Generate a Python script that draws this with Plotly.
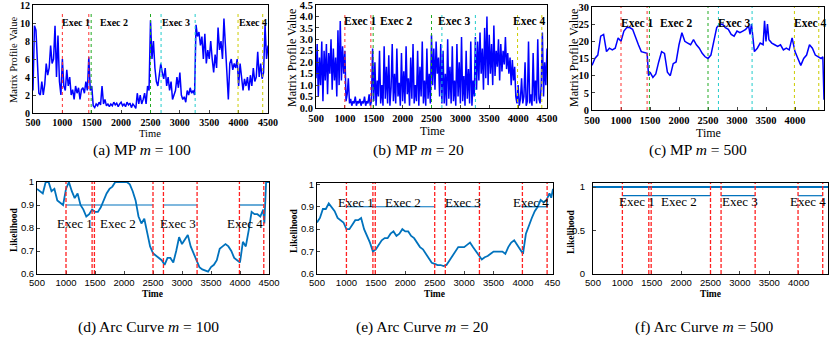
import plotly.graph_objects as go

# ---------------- data ----------------
t_a = list(range(500, 4501, 25))
mp_100 = [2.5, 9.7, 9.2, 5.0, 2.2, 2.0, 3.5, 2.0, 3.2, 5.5, 4.2, 5.0, 7.5, 5.5, 6.0, 9.7, 4.0, 8.6, 3.5, 2.0,
          6.0, 3.0, 2.5, 4.8, 3.0, 4.0, 2.0, 2.6, 1.5, 3.0, 2.2, 2.8, 1.5, 2.6, 2.8, 2.2, 3.5, 2.5, 6.2, 2.5,
          3.0, 0.8, 0.6, 1.0, 0.8, 1.2, 0.9, 3.0, 1.0, 1.5, 0.8, 1.0, 0.7, 1.0, 0.8, 1.2, 0.9, 1.1, 0.7, 1.0,
          1.2, 0.8, 1.0, 0.7, 1.2, 0.9, 1.1, 0.6, 1.0, 0.8, 0.5, 2.2, 1.0, 2.0, 1.0, 1.5, 2.2, 1.0, 3.0, 2.5,
          10.3, 6.0, 8.0, 5.0, 3.5, 3.0, 4.5, 5.5, 4.5, 3.8, 5.0, 3.0, 4.0, 2.5, 3.5, 1.5, 2.0, 2.5, 4.0, 2.8,
          4.5, 2.0, 1.5, 1.8, 1.2, 2.5, 2.0, 2.8, 2.2, 2.5, 2.0, 9.8, 8.5, 9.0, 7.5, 8.5, 6.0, 8.8, 5.5, 7.0,
          6.0, 8.0, 6.0, 4.5, 6.5, 5.0, 9.5, 7.0, 8.0, 6.0, 10.5, 7.5, 6.0, 1.5, 5.5, 6.0, 4.8, 5.5, 5.0, 6.0,
          3.0, 5.5, 4.0, 2.5, 3.8, 3.0, 4.0, 2.5, 4.2, 3.0, 5.0, 3.5, 4.0, 6.8, 4.0, 5.5, 3.8, 4.5, 9.8, 6.0,
          7.5]

t_b = list(range(500, 4501, 20))
mp_20 = [1.3, 2.8, 0.5, 2.2, 1.0, 2.9, 0.3, 2.5, 1.2, 2.8,
         0.6, 2.4, 1.5, 3.0, 0.8, 2.6, 1.2, 2.2, 0.5, 3.4,
         1.0, 3.8, 1.2, 2.7, 1.5, 2.5, 0.3, 0.6, 1.3, 0.2,
         0.4, 0.1, 0.3, 0.2, 0.5, 0.1, 0.3, 0.2, 0.4, 0.1,
         0.3, 0.2, 0.5, 0.1, 0.3, 0.2, 0.6, 0.1, 0.3, 2.6,
         0.3, 2.0, 0.1, 1.2, 0.5, 2.5, 0.2, 1.0, 0.1, 2.7,
         0.4, 1.8, 0.2, 2.3, 0.1, 0.9, 2.8, 0.3, 1.5, 0.2,
         2.6, 0.5, 1.1, 0.1, 2.4, 0.3, 1.6, 0.2, 2.7, 0.6,
         1.3, 0.1, 2.2, 0.4, 2.8, 0.2, 1.0, 0.3, 2.5, 0.1,
         1.8, 0.5, 2.9, 0.2, 1.2, 0.1, 2.6, 0.4, 1.5, 0.2,
         3.2, 1.0, 2.6, 0.8, 2.9, 1.5, 2.2, 0.5, 2.8, 0.2,
         2.5, 0.2, 1.5, 0.1, 3.0, 0.4, 1.8, 0.2, 2.7, 0.3,
         1.2, 0.1, 2.8, 0.5, 2.0, 0.2, 3.1, 0.3, 1.4, 0.1,
         2.5, 0.4, 1.7, 0.2, 2.9, 0.1, 1.2, 0.5, 3.1, 0.8,
         2.9, 1.2, 3.3, 1.5, 2.6, 0.8, 3.5, 1.3, 4.0, 1.0,
         3.2, 1.5, 2.8, 1.0, 3.6, 1.4, 2.5, 1.8, 3.0, 1.2,
         2.8, 1.6, 2.5, 1.9, 3.1, 1.7, 2.4, 1.5, 2.2, 1.0,
         2.1, 1.2, 1.8, 0.5, 0.2, 1.0, 0.1, 0.4, 1.3, 0.2,
         0.5, 2.0, 0.1, 0.3, 2.9, 0.2, 0.6, 0.1, 2.4, 0.3,
         1.2, 0.2, 3.0, 0.4, 0.2, 1.0, 3.3, 0.5, 2.0, 1.0,
         2.6]

t_c = [500, 550, 600, 650, 700, 750, 800, 850, 900, 950, 1000, 1050, 1100, 1150, 1200, 1250, 1300, 1350,
       1400, 1450, 1475, 1500, 1550, 1600, 1650, 1700, 1750, 1800, 1850, 1900, 1950, 2000, 2050, 2100, 2150,
       2200, 2250, 2300, 2350, 2400, 2450, 2500, 2550, 2600, 2650, 2700, 2750, 2800, 2850, 2900, 2950, 3000,
       3050, 3100, 3150, 3200, 3225, 3250, 3300, 3350, 3400, 3450, 3475, 3500, 3525, 3550, 3600, 3650, 3700,
       3750, 3800, 3850, 3900, 3950, 4000, 4050, 4100, 4150, 4200, 4250, 4300, 4350, 4400, 4450, 4480, 4500]
mp_500 = [13, 15, 16, 21.5, 22, 17, 18, 17.5, 18, 21, 20, 23, 24, 24, 23.5, 21, 19, 17,
          16.8, 16.5, 10, 11, 9.5, 10.5, 14, 17, 16.5, 11, 10, 13.5, 14, 19, 22.5, 20, 19.5,
          19, 20.5, 19, 18, 16.5, 15.5, 15, 16, 20, 24, 25, 25, 24, 23.5, 22, 21.5, 23,
          22.5, 23, 23.5, 24.5, 22, 25, 17, 18, 19.5, 19, 26, 20, 25, 20.5, 19.5, 19, 18.5,
          19, 17.5, 18, 17.5, 21, 17, 15, 13, 15, 16, 19, 18, 16, 15.5, 15, 15.5, 3]

t_d = [500, 550, 600, 650, 700, 750, 800, 850, 900, 950, 1000, 1050, 1100, 1150, 1200, 1250, 1300, 1350,
       1400, 1450, 1500, 1550, 1600, 1650, 1700, 1750, 1800, 1850, 1900, 1950, 2000, 2050, 2100, 2150, 2200,
       2250, 2300, 2350, 2400, 2450, 2500, 2550, 2600, 2650, 2700, 2750, 2800, 2850, 2900, 2950, 3000, 3050,
       3100, 3150, 3200, 3250, 3300, 3350, 3400, 3450, 3500, 3550, 3600, 3650, 3700, 3750, 3800, 3850, 3900,
       3950, 4000, 4050, 4100, 4150, 4200, 4250, 4300, 4350, 4400, 4420, 4450, 4500]
arc_100 = [0.97, 0.96, 0.95, 1.0, 1.0, 0.96, 0.97, 0.92, 0.91, 0.90, 0.97, 1.0, 0.96, 0.93, 0.95, 0.90, 0.88, 0.85,
           0.86, 0.88, 0.87, 0.87, 0.89, 0.92, 0.95, 0.97, 0.98, 1.0, 1.0, 1.0, 1.0, 1.0, 0.99, 0.96, 0.92,
           0.85, 0.82, 0.84, 0.78, 0.72, 0.69, 0.68, 0.67, 0.66, 0.64, 0.67, 0.67, 0.65, 0.70, 0.76, 0.73, 0.75,
           0.77, 0.72, 0.69, 0.66, 0.63, 0.62, 0.615, 0.61, 0.63, 0.64, 0.66, 0.71, 0.72, 0.73, 0.72, 0.70, 0.67,
           0.66, 0.65, 0.74, 0.72, 0.79, 0.87, 0.86, 0.86, 0.85, 0.88, 0.82, 1.0, 1.0]

t_e = [500, 550, 600, 650, 700, 750, 800, 850, 900, 950, 1000, 1050, 1100, 1150, 1200, 1250, 1300, 1350,
       1400, 1450, 1500, 1550, 1600, 1650, 1700, 1750, 1800, 1850, 1900, 1950, 2000, 2050, 2100, 2150, 2200,
       2250, 2300, 2350, 2400, 2450, 2500, 2550, 2600, 2650, 2700, 2750, 2800, 2850, 2900, 2950, 3000, 3050,
       3100, 3150, 3200, 3250, 3300, 3350, 3400, 3450, 3500, 3550, 3600, 3650, 3700, 3750, 3800, 3850, 3900,
       3950, 4000, 4050, 4100, 4150, 4200, 4250, 4300, 4350, 4400, 4450, 4480, 4510]
arc_20 = [0.83, 0.85, 0.89, 0.89, 0.915, 0.90, 0.88, 0.85, 0.84, 0.83, 0.80, 0.80, 0.82, 0.84, 0.84, 0.85, 0.80, 0.77,
          0.74, 0.70, 0.71, 0.73, 0.75, 0.76, 0.76, 0.78, 0.79, 0.77, 0.78, 0.80, 0.79, 0.79, 0.77, 0.76, 0.74,
          0.72, 0.71, 0.69, 0.67, 0.65, 0.645, 0.64, 0.64, 0.635, 0.64, 0.66, 0.68, 0.70, 0.72, 0.72, 0.72, 0.73,
          0.74, 0.72, 0.70, 0.68, 0.665, 0.675, 0.68, 0.69, 0.70, 0.70, 0.70, 0.70, 0.69, 0.72, 0.74, 0.75, 0.73,
          0.71, 0.69, 0.78, 0.82, 0.85, 0.88, 0.90, 0.93, 0.92, 0.93, 0.96, 0.94, 0.98]

t_f = [500, 4500]
arc_500 = [1.0, 1.0]

exec_bounds = [1000, 1450, 1490, 2500, 2680, 3260, 3990, 4410]
exec_names = ["Exec 1", "Exec 2", "Exec 3", "Exec 4"]
segments = [(1000, 2500), (2680, 3260), (3990, 4410)]
segment_level = 0.9
captions = ["(a) MP <i>m</i> = 100", "(b) MP <i>m</i> = 20", "(c) MP <i>m</i> = 500",
            "(d) Arc Curve <i>m</i> = 100", "(e) Arc Curve <i>m</i> = 20", "(f) Arc Curve <i>m</i> = 500"]

# ---------------- layout helpers ----------------
W, H = 833, 346
def dx(a, b):
    return [a / W, b / W]
def dy(top, bot):
    return [1 - bot / H, 1 - top / H]

SERIF = "Liberation Serif"
SANS = "Liberation Sans"
MP_BLUE = "#0000ff"
ARC_BLUE = "#0072bd"
vline_cols = ["#ff3030", "#ff3030", "#22aa22", "#22aa22", "#22cccc", "#22cccc", "#cccc00", "#cccc00"]

fig = go.Figure()

panels = [
    dict(n=1, x=t_a, y=mp_100, xd=dx(33, 268), yd=dy(5, 113), yr=[0, 12], dt=2, kind="mp",
         fs=10, tfs=10.5, xt=(150, 133), yt=(13, 60), efs=10, ys=0),
    dict(n=2, x=t_b, y=mp_20, xd=dx(316, 547), yd=dy(5, 108), yr=[0, 4.5], dt=0.5, kind="mp",
         fs=10.5, tfs=12, xt=(432, 131), yt=(292, 58), efs=11.5, ys=0),
    dict(n=3, x=t_c, y=mp_500, xd=dx(592, 824), yd=dy(7, 110), yr=[0, 30], dt=5, kind="mp",
         fs=10.5, tfs=12, xt=(708, 133), yt=(574, 58), efs=11.5, ys=0),
    dict(n=4, x=t_d, y=arc_100, xd=dx(37, 269), yd=dy(182, 274), yr=[0.6, 1.0], dt=0.1, kind="arc",
         fs=9.5, tfs=9.5, xt=(152, 294), yt=(14, 230), efs=13, ys=0),
    dict(n=5, x=t_e, y=arc_20, xd=dx(317, 553), yd=dy(183, 274), yr=[0.6, 1.006], dt=0.1, kind="arc",
         fs=9.5, tfs=9.5, xt=(434, 294), yt=(294, 231), efs=13, ys=0),
    dict(n=6, x=t_f, y=arc_500, xd=dx(593, 828), yd=dy(183, 274), yr=[0, 1.046], dt=0.5, kind="arc",
         fs=9.5, tfs=9.5, xt=(710, 294), yt=(571, 232), efs=13, ys=5),
]

mp_label_x = {1: [1240, 1885, 2930, 4250], 2: [1270, 1900, 2900, 4200], 3: [1280, 1950, 2950, 4260]}
arc_label_x = {4: [1160, 1905, 2935, 4080], 5: [1155, 1955, 2980, 4140], 6: [1243, 1969, 3000, 4157]}
arc_label_y = {4: 0.82, 5: 0.92, 6: 0.83}

for p in panels:
    n = p["n"]
    xa = "x" if n == 1 else f"x{n}"
    ya = "y" if n == 1 else f"y{n}"
    xkey = "xaxis" if n == 1 else f"xaxis{n}"
    ykey = "yaxis" if n == 1 else f"yaxis{n}"
    is_mp = p["kind"] == "mp"
    fs = p["fs"]
    if is_mp:
        tickfont = dict(family=SERIF, size=fs, color="black", weight="bold")
    else:
        tickfont = dict(family=SANS, size=fs, color="black")
    xmax = 4510 if n == 5 else 4500
    ticktext = None
    tickvals = list(range(500, 4501, 500))
    if n == 5:
        ticktext = [str(v) for v in tickvals[:-1]] + ["450"]
    fig.layout[xkey] = dict(domain=p["xd"], anchor=ya, range=[500, xmax], tickvals=tickvals,
                            ticktext=ticktext, ticks="inside", ticklen=3, showline=True, mirror=True,
                            linecolor="black", linewidth=1, showgrid=False, zeroline=False,
                            automargin=False, tickfont=tickfont)
    ytf = ".1f" if n == 2 else None
    fig.layout[ykey] = dict(domain=p["yd"], anchor=xa, range=p["yr"], dtick=p["dt"],
                            tick0=0, ticks="inside", ticklen=3, showline=True, mirror=True,
                            linecolor="black", linewidth=1, showgrid=False, zeroline=False,
                            automargin=False, tickformat=ytf, tickfont=tickfont,
                            ticklabelstandoff=p["ys"], ticklabeloverflow="allow")

    # axis titles
    tfont = dict(family=SERIF, size=p["tfs"], color="black")
    if is_mp:
        ytxt = "Matrix Profile Value"
        ttxt = "Time"
    else:
        ytxt = "<b>Likelihood</b>"
        ttxt = "<b>Time</b>"
    fig.add_annotation(x=p["xt"][0] / W, y=1 - p["xt"][1] / H, xref="paper", yref="paper", text=ttxt,
                       showarrow=False, xanchor="center", yanchor="middle", font=tfont)
    fig.add_annotation(x=p["yt"][0] / W, y=1 - p["yt"][1] / H, xref="paper", yref="paper", text=ytxt,
                       showarrow=False, xanchor="center", yanchor="middle", textangle=-90, font=tfont)

    # vertical markers
    for i, b in enumerate(exec_bounds):
        if is_mp:
            fig.add_shape(type="line", xref=xa, yref=f"{ya} domain", x0=b, x1=b, y0=0, y1=0.92 if n != 3 else 1,
                          line=dict(color=vline_cols[i], width=1, dash="dot"))
        else:
            fig.add_shape(type="line", xref=xa, yref=f"{ya} domain", x0=b, x1=b, y0=0, y1=1,
                          line=dict(color="#ff2020", width=1.3, dash="4px,2px"))

    if not is_mp:
        for s0, s1 in segments:
            fig.add_trace(go.Scatter(x=[s0, s1], y=[segment_level, segment_level], xaxis=xa, yaxis=ya,
                                     mode="lines", line=dict(color=ARC_BLUE, width=1.2), showlegend=False))

    fig.add_trace(go.Scatter(x=p["x"], y=p["y"], xaxis=xa, yaxis=ya, mode="lines",
                             line=dict(color=MP_BLUE if is_mp else ARC_BLUE, width=1.5 if is_mp else 1.8),
                             showlegend=False))

    # exec labels
    for k, name in enumerate(exec_names):
        if is_mp:
            fig.add_annotation(x=mp_label_x[n][k], y=0.84, xref=xa, yref=f"{ya} domain", text=f"<b>{name}</b>",
                               showarrow=False, xanchor="center", yanchor="middle",
                               font=dict(family=SERIF, size=p["efs"], color="black"))
        else:
            fig.add_annotation(x=arc_label_x[n][k], y=arc_label_y[n], xref=xa, yref=ya, text=name,
                               showarrow=False, xanchor="center", yanchor="middle",
                               font=dict(family=SERIF, size=p["efs"], color="black"))

cap_pos = [(142, 150), (418, 150), (698, 150), (148, 327), (422, 327), (704, 327)]
for (cx, cy), txt in zip(cap_pos, captions):
    fig.add_annotation(x=cx / W, y=1 - cy / H, xref="paper", yref="paper", text=txt, showarrow=False,
                       xanchor="center", yanchor="middle",
                       font=dict(family=SERIF, size=15.5, color="black"))

fig.update_layout(template="none", width=W, height=H, margin=dict(l=0, r=0, t=0, b=0, autoexpand=False),
                  paper_bgcolor="white", plot_bgcolor="white")

fig.write_html("out.html", config={"displayModeBar": False},
               post_script="document.body.style.margin='0';document.body.style.padding='0';"
                           "document.documentElement.style.overflow='hidden';")
